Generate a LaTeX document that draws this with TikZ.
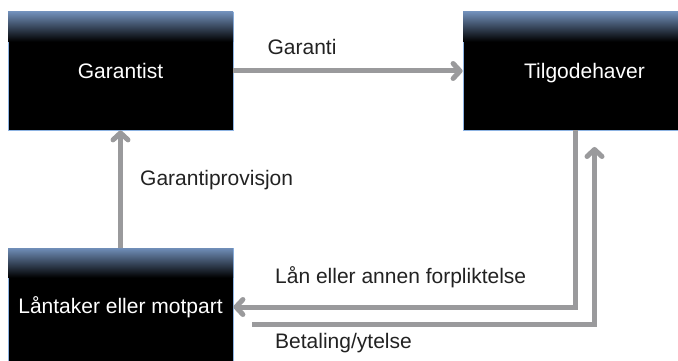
\documentclass[tikz,border=0pt]{standalone}
\usepackage{fontspec}
\setmainfont{Liberation Sans}
\usetikzlibrary{arrows.meta,calc}
\definecolor{arrowgray}{RGB}{154,154,156}
\definecolor{boxborder}{RGB}{141,179,226}
\definecolor{boxtop}{RGB}{112,142,184}
\definecolor{labelcol}{RGB}{34,34,34}
\begin{document}
\begin{tikzpicture}[x=1pt,y=1pt,
  box/.style={draw=boxborder, line width=0.8pt, fill=black, text=white,
    inner sep=0pt, font=\fontsize{21}{25}\selectfont},
  flow/.style={draw=arrowgray, line width=5pt,
    -{Straight Barb[length=7pt,width=15pt,round]}},
  lbl/.style={text=labelcol, font=\fontsize{21}{25}\selectfont, inner sep=0pt}]
\useasboundingbox (0,0) rectangle (678,-361);
\clip (0,0) rectangle (678,-361);
\node[box, minimum width=225pt, minimum height=118pt] (gar) at (120.5,-71) {};
\shade[top color=boxtop, bottom color=black] ([shift={(0.4pt,-0.4pt)}]gar.north west) rectangle ([shift={(-0.4pt,-30pt)}]gar.north east);
\node[text=white, font=\fontsize{21}{25}\selectfont] at (gar.center) {Garantist};
\node[box, minimum width=243pt, minimum height=118pt] (til) at (584.5,-71) {};
\shade[top color=boxtop, bottom color=black] ([shift={(0.4pt,-0.4pt)}]til.north west) rectangle ([shift={(-0.4pt,-30pt)}]til.north east);
\node[text=white, font=\fontsize{21}{25}\selectfont] at (584.5,-73) {Tilgodehaver};
\node[box, minimum width=225pt, minimum height=118pt] (lan) at (120.5,-307) {};
\shade[top color=boxtop, bottom color=black] ([shift={(0.4pt,-0.4pt)}]lan.north west) rectangle ([shift={(-0.4pt,-30pt)}]lan.north east);
\node[text=white, font=\fontsize{21}{25}\selectfont] at (lan.center) {Låntaker eller motpart};

\draw[flow] (gar.east) -- (til.west);
\draw[flow] (lan.north) -- (gar.south);
\coordinate (lx) at (575.5,0);
\draw[flow] (lx |- til.south) |- (lan.east);
\coordinate (bs) at (252,-324.5);
\coordinate (be) at (594.5,-147);
\draw[flow] (bs) -| (be);

\node[lbl] at (302,-47) {Garanti};
\node[lbl, anchor=west] at (140,-180) {Garantiprovisjon};
\node[lbl, anchor=west] at (275,-277) {Lån eller annen forpliktelse};
\node[lbl, anchor=west] at (275,-343) {Betaling/ytelse};
\end{tikzpicture}
\end{document}
